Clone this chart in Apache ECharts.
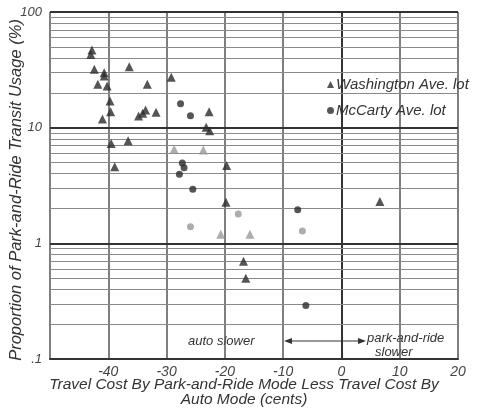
<!DOCTYPE html>
<html><head><meta charset="utf-8">
<script src="https://cdn.jsdelivr.net/npm/echarts@6/dist/echarts.min.js"></script>
<style>html,body{margin:0;padding:0;background:#fff}#c{width:492px;height:412px}</style>
</head><body><div id="c"></div>
<script>
// ---- data ----
const xTicks = [-40, -30, -20, -10, 0, 10, 20];
const yTickLabels = {"0.1": ".1", "1": "1", "10": "10", "100": "100"};
const washingtonX = [-42.8, -43.0, -42.4, -40.7, -40.7, -41.8, -40.2, -39.7, -39.6, -41.0, -36.4, -33.3, -34.8, -34.1, -33.6, -31.8, -29.2, -22.7, -23.2, -22.6, -39.5, -36.6, -38.9, -19.7, -19.8, -16.8, -16.4, 6.6];
const washingtonY = [47, 43, 32, 29.8, 28, 23.7, 22.9, 17.0, 13.7, 11.9, 33.6, 23.7, 12.6, 13.3, 14.2, 13.6, 27.3, 13.7, 10.1, 9.4, 7.3, 7.7, 4.6, 4.7, 2.26, 0.70, 0.50, 2.3];
const washingtonFaintX = [-28.7, -23.7, -20.7, -15.7];
const washingtonFaintY = [6.5, 6.4, 1.2, 1.2];
const mccartyX = [-27.6, -25.9, -27.3, -27.0, -27.8, -25.5, -7.5, -6.1];
const mccartyY = [16.1, 12.7, 4.95, 4.5, 3.95, 2.94, 1.95, 0.29];
const mccartyFaintX = [-17.7, -25.9, -6.7];
const mccartyFaintY = [1.79, 1.39, 1.28];
const minorGrid = [0.2,0.3,0.4,0.5,0.6,0.7,0.8,0.9,2,3,4,5,6,7,8,9,20,30,40,50,60,70,80,90];
const majorGrid = [1, 10, 100];

const zip = (xs, ys) => xs.map((x, i) => [x, ys[i]]);
const FONT = 'Liberation Sans';
const ink = '#2a2a2a';

const chart = echarts.init(document.getElementById('c'), null, {renderer: 'canvas'});
chart.setOption({
  animation: false,
  backgroundColor: '#fff',
  grid: {left: 50, right: 34, top: 12, bottom: 53, containLabel: false, outerBoundsMode: 'none'},
  xAxis: {
    type: 'value', min: -50, max: 20, interval: 10,
    axisLine: {show: true, lineStyle: {color: '#333', width: 2}},
    axisTick: {show: false},
    splitLine: {show: true, lineStyle: {color: '#555', width: 1.5}},
    axisLabel: {
      fontFamily: FONT, fontStyle: 'italic', fontSize: 14, color: '#444', margin: 6,
      formatter: v => xTicks.includes(v) ? String(v) : ''
    }
  },
  yAxis: {
    type: 'log', logBase: 10, min: 0.1, max: 100,
    axisLine: {show: true, lineStyle: {color: '#333', width: 2}},
    axisTick: {show: false},
    splitLine: {show: false},
    axisLabel: {
      fontFamily: FONT, fontStyle: 'italic', fontSize: 13, color: '#444', margin: 8,
      formatter: v => yTickLabels[String(+v.toPrecision(3))] || ''
    }
  },
  legend: {
    orient: 'vertical', left: 322, top: 72, itemGap: 11,
    itemWidth: 7, itemHeight: 7,
    data: [{name: 'Washington Ave. lot', icon: 'triangle'}, {name: 'McCarty Ave. lot', icon: 'circle'}],
    textStyle: {fontFamily: FONT, fontStyle: 'italic', fontSize: 15, color: '#333', padding: [0, 0, 0, -3]}
  },
  series: [
    {
      name: 'grid-minor', type: 'line', data: [], silent: true,
      markLine: {silent: true, symbol: 'none', label: {show: false},
        lineStyle: {color: '#8a8a8a', width: 1, type: 'solid'},
        data: minorGrid.map(v => ({yAxis: v}))}
    },
    {
      name: 'grid-major', type: 'line', data: [], silent: true,
      markLine: {silent: true, symbol: 'none', label: {show: false},
        lineStyle: {color: '#333', width: 2, type: 'solid'},
        data: majorGrid.map(v => ({yAxis: v}))}
    },
    {name: 'Washington Ave. lot', type: 'scatter', symbol: 'triangle', symbolSize: 9,
      itemStyle: {color: ink}, data: zip(washingtonX, washingtonY), z: 5},
    {name: 'Washington faint', type: 'scatter', symbol: 'triangle', symbolSize: 9,
      itemStyle: {color: '#999'}, data: zip(washingtonFaintX, washingtonFaintY), z: 5},
    {name: 'McCarty Ave. lot', type: 'scatter', symbol: 'circle', symbolSize: 7,
      itemStyle: {color: ink}, data: zip(mccartyX, mccartyY), z: 5},
    {name: 'McCarty faint', type: 'scatter', symbol: 'circle', symbolSize: 7,
      itemStyle: {color: '#999'}, data: zip(mccartyFaintX, mccartyFaintY), z: 5}
  ],
  graphic: [
    {type: 'text', x: 16, y: 190, rotation: Math.PI / 2, style: {
      text: 'Proportion of Park-and-Ride Transit Usage (%)',
      font: 'italic 16.5px "' + FONT + '"', fill: '#333', align: 'center', verticalAlign: 'middle'}},
    {type: 'text', x: 244, y: 377, style: {
      text: 'Travel Cost By Park-and-Ride Mode Less Travel Cost By\nAuto Mode (cents)',
      font: 'italic 15.5px "' + FONT + '"', fill: '#333', align: 'center', lineHeight: 15}},
    {type: 'text', x: 188, y: 335, style: {text: 'auto slower', font: 'italic 13px "' + FONT + '"', fill: '#333'}},
    {type: 'text', x: 367, y: 332, style: {text: 'park-and-ride', font: 'italic 13px "' + FONT + '"', fill: '#333'}},
    {type: 'text', x: 375, y: 346, style: {text: 'slower', font: 'italic 13px "' + FONT + '"', fill: '#333'}},
    {type: 'line', shape: {x1: 286, y1: 341, x2: 364, y2: 341}, style: {stroke: '#333', lineWidth: 1.2}},
    {type: 'polygon', shape: {points: [[284, 341], [292, 338], [292, 344]]}, style: {fill: '#333'}},
    {type: 'polygon', shape: {points: [[366, 341], [358, 338], [358, 344]]}, style: {fill: '#333'}}
  ]
});
</script></body></html>
